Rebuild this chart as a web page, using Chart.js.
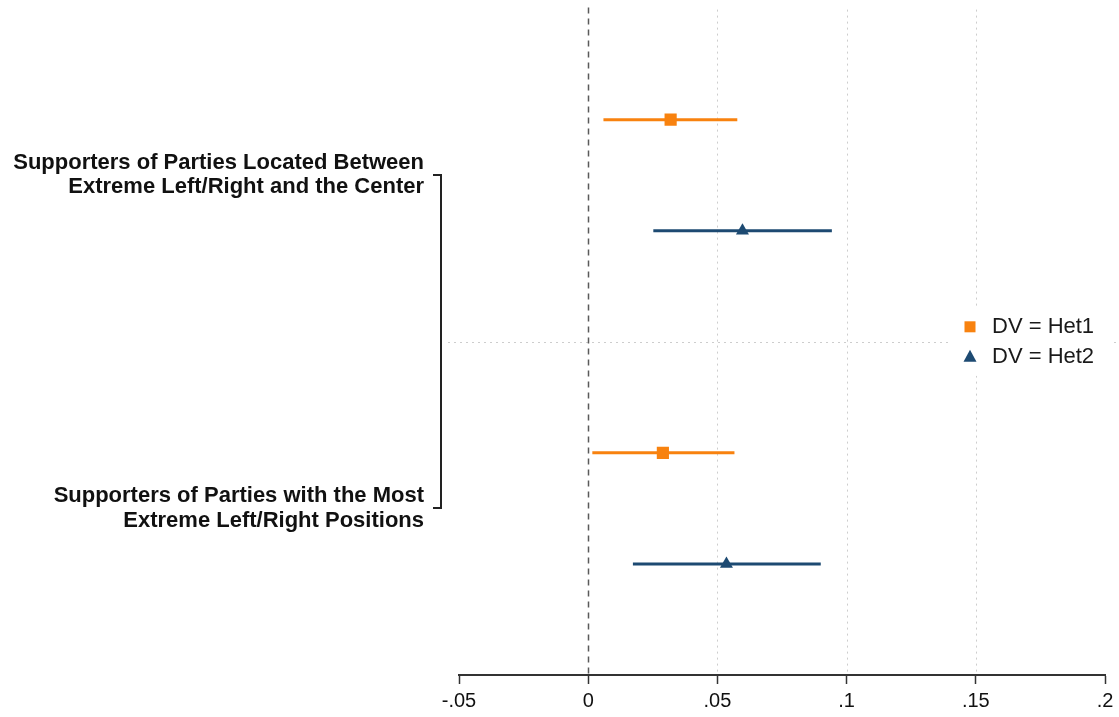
<!DOCTYPE html>
<html>
<head>
<meta charset="utf-8">
<script src="https://cdn.jsdelivr.net/npm/chart.js@4/dist/chart.umd.min.js"></script>
<style>
  html, body { margin: 0; padding: 0; background: #ffffff; }
  #wrap { width: 1119px; height: 717px; position: relative; }
</style>
</head>
<body>
<div id="wrap"><canvas id="c"></canvas></div>
<script>
// ---- data ----
const categories = [
  ['Supporters of Parties Located Between', 'Extreme Left/Right and the Center'],
  ['Supporters of Parties with the Most', 'Extreme Left/Right Positions']
];
const seriesNames = ['DV = Het1', 'DV = Het2'];
const het1Est = [0.0319, 0.0289];
const het1Lo  = [0.0059, 0.0016];
const het1Hi  = [0.0577, 0.0566];
const het2Est = [0.0597, 0.0535];
const het2Lo  = [0.0252, 0.0173];
const het2Hi  = [0.0943, 0.0900];
const xTicks  = [-0.05, 0, 0.05, 0.1, 0.15, 0.2];

// row positions: each category gets two rows, groups separated by a gap row
function rowOf(group, series) { return group * 3 + series + 1; }
function groupCenter(group) { return group * 3 + 1.5; }

const ORANGE = '#f8820f';
const NAVY = '#1d4a72';

function pts(est, lo, hi, s) {
  return est.map((v, g) => ({ x: v, y: rowOf(g, s), lo: lo[g], hi: hi[g] }));
}

const fmt = v => {
  const r = Math.round(v * 100) / 100;
  if (r === 0) return '0';
  return String(r).replace(/^(-?)0\./, '$1.');
};

const decor = {
  id: 'decor',
  beforeDatasetsDraw(chart) {
    const { ctx, chartArea: a, scales: { x, y } } = chart;
    ctx.save();
    // dotted vertical grid lines
    ctx.strokeStyle = '#cdcdcd';
    ctx.lineWidth = 1;
    ctx.setLineDash([2, 4]);
    xTicks.forEach(v => {
      if (v === 0 || v === xTicks[0] || v === xTicks[xTicks.length - 1]) return;
      const px = Math.round(x.getPixelForValue(v)) + 0.5;
      ctx.beginPath(); ctx.moveTo(px, a.top + 1); ctx.lineTo(px, a.bottom); ctx.stroke();
    });
    // dotted horizontal separator between groups
    const sy = Math.round(y.getPixelForValue(3)) + 0.5;
    ctx.beginPath(); ctx.moveTo(a.left - 11, sy); ctx.lineTo(a.right + 12, sy); ctx.stroke();
    // dashed zero line
    ctx.strokeStyle = '#5a5a5a';
    ctx.lineWidth = 1.5;
    ctx.setLineDash([6, 5]);
    const zx = Math.round(x.getPixelForValue(0)) + 0.5;
    ctx.beginPath(); ctx.moveTo(zx, a.top - 1); ctx.lineTo(zx, a.bottom); ctx.stroke();
    ctx.setLineDash([]);
    // group bracket
    ctx.strokeStyle = '#222';
    ctx.lineWidth = 2;
    const bx = a.left - 18;
    const y1 = Math.round(y.getPixelForValue(groupCenter(0)));
    const y2 = Math.round(y.getPixelForValue(groupCenter(1)));
    ctx.beginPath();
    ctx.moveTo(bx - 8, y1); ctx.lineTo(bx, y1); ctx.lineTo(bx, y2); ctx.lineTo(bx - 8, y2);
    ctx.stroke();
    // confidence intervals
    chart.data.datasets.forEach(ds => {
      ctx.strokeStyle = ds.borderColor;
      ctx.lineWidth = 3;
      ds.data.forEach(p => {
        const py = y.getPixelForValue(p.y);
        ctx.beginPath();
        ctx.moveTo(x.getPixelForValue(p.lo), py);
        ctx.lineTo(x.getPixelForValue(p.hi), py);
        ctx.stroke();
      });
    });
    ctx.restore();
  },
  afterDatasetsDraw(chart) {
    const { ctx, chartArea: a, scales: { y } } = chart;
    ctx.save();
    const cy = y.getPixelForValue(3);
    const left = a.right - 153;
    ctx.fillStyle = '#ffffff';
    ctx.fillRect(left, cy - 34, 158, 68);
    ctx.font = '22px "Liberation Sans", Arial, sans-serif';
    ctx.textBaseline = 'middle';
    ctx.textAlign = 'left';
    const mx = left + 18;
    // entry 1: square
    ctx.fillStyle = ORANGE;
    ctx.fillRect(mx - 5.5, cy - 15 - 5.5, 11, 11);
    ctx.fillStyle = '#1a1a1a';
    ctx.fillText(seriesNames[0], left + 40, cy - 15);
    // entry 2: triangle
    ctx.fillStyle = NAVY;
    ctx.beginPath();
    ctx.moveTo(mx, cy + 15 - 7);
    ctx.lineTo(mx + 6.5, cy + 15 + 5);
    ctx.lineTo(mx - 6.5, cy + 15 + 5);
    ctx.closePath(); ctx.fill();
    ctx.fillStyle = '#1a1a1a';
    ctx.fillText(seriesNames[1], left + 40, cy + 15);
    ctx.restore();
  }
};

new Chart(document.getElementById('c'), {
  type: 'scatter',
  data: {
    datasets: [
      {
        label: seriesNames[0],
        data: pts(het1Est, het1Lo, het1Hi, 0),
        backgroundColor: ORANGE, borderColor: ORANGE, borderWidth: 0,
        pointStyle: 'rect', pointRadius: 8.6, pointHoverRadius: 8.6
      },
      {
        label: seriesNames[1],
        data: pts(het2Est, het2Lo, het2Hi, 1),
        backgroundColor: NAVY, borderColor: NAVY, borderWidth: 0,
        pointStyle: 'triangle', pointRadius: 7.5, pointHoverRadius: 7.5
      }
    ]
  },
  options: {
    responsive: true,
    maintainAspectRatio: false,
    animation: false,
    layout: { padding: { top: 7, right: 14, left: 0, bottom: 0 } },
    plugins: { legend: { display: false }, tooltip: { enabled: false } },
    scales: {
      x: {
        type: 'linear',
        min: xTicks[0], max: xTicks[xTicks.length - 1],
        afterBuildTicks: s => { s.ticks = xTicks.map(v => ({ value: v })); },
        afterFit: s => { s.height = 42; s.paddingLeft = 0; s.paddingRight = 0; },
        grid: { display: true, drawOnChartArea: false, drawTicks: true, tickLength: 9, tickColor: '#333', tickWidth: 1.5 },
        border: { display: true, color: '#333', width: 2 },
        ticks: {
          padding: 5,
          color: '#111',
          font: { family: '"Liberation Sans", Arial, sans-serif', size: 20 },
          maxRotation: 0,
          autoSkip: false,
          callback: v => fmt(v)
        }
      },
      y: {
        type: 'linear',
        min: 0, max: 6,
        reverse: true,
        afterBuildTicks: s => { s.ticks = categories.map((c, g) => ({ value: groupCenter(g) })); },
        afterFit: s => { s.width = 459; s.paddingTop = 0; s.paddingBottom = 0; },
        grid: { display: false, drawTicks: false },
        border: { display: false },
        ticks: {
          padding: 35,
          color: '#111',
          autoSkip: false,
          font: { family: '"Liberation Sans", Arial, sans-serif', size: 22, weight: 'bold', lineHeight: 1.1 },
          callback: v => {
            const g = categories.findIndex((c, i) => Math.abs(groupCenter(i) - v) < 1e-6);
            return g >= 0 ? categories[g] : '';
          }
        }
      }
    }
  },
  plugins: [decor]
});
</script>
</body>
</html>
